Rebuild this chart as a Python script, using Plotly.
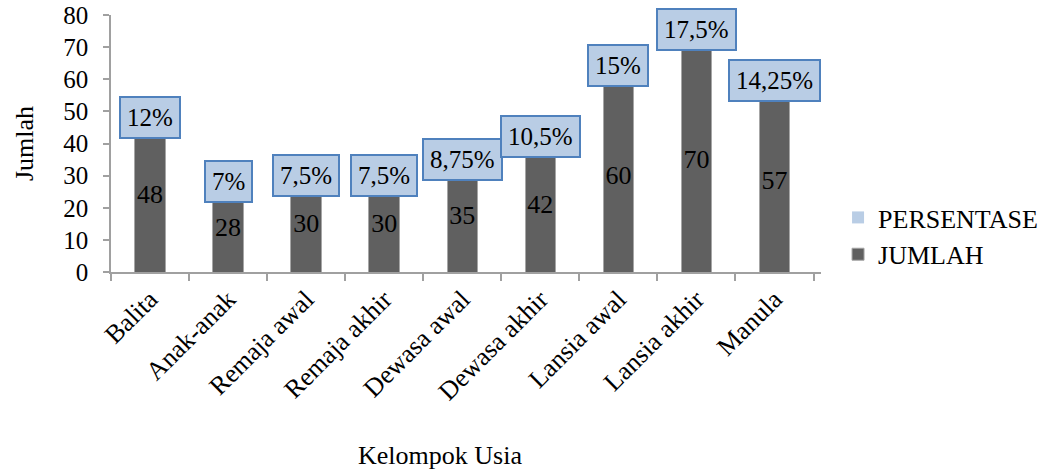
import plotly.graph_objects as go

categories = ["Balita", "Anak-anak", "Remaja awal", "Remaja akhir", "Dewasa awal",
              "Dewasa akhir", "Lansia awal", "Lansia akhir", "Manula"]
jumlah = [48, 28, 30, 30, 35, 42, 60, 70, 57]
persentase = [12, 7, 7.5, 7.5, 8.75, 10.5, 15, 17.5, 14.25]
y_ticks = [0, 10, 20, 30, 40, 50, 60, 70, 80]

# per-label vertical nudge in pixels (label placement style)
label_nudge = [0, 0, 0, 0, 0, 0, 13, 17, 8]

FONT = "Liberation Serif"
DARK = "#606060"
LIGHT = "#b9cde5"
BORDER = "#4f81bd"
AXIS = "#a0a0a0"

def fmt_pct(v):
    s = ("%g" % v).replace(".", ",")
    return s + "%"

pct_frac = [p / 100 for p in persentase]

fig = go.Figure()
fig.add_trace(go.Bar(
    x=categories, y=jumlah, name="JUMLAH", legendgroup="j",
    marker=dict(color=DARK, line=dict(color="#a6a6a6", width=1)),
    text=[str(v) for v in jumlah], textposition="inside", insidetextanchor="middle",
    constraintext="none",
    textfont=dict(family=FONT, size=26, color="black"),
    textangle=0,
))
fig.add_trace(go.Bar(
    x=categories, y=pct_frac, name="PERSENTASE", legendgroup="p",
    marker=dict(color=LIGHT, line=dict(width=0)),
))

for c, j, f, p, n in zip(categories, jumlah, pct_frac, persentase, label_nudge):
    fig.add_annotation(
        x=c, y=j + f, xref="x", yref="y", text=fmt_pct(p), showarrow=False,
        yanchor="middle", xanchor="center", yshift=n,
        font=dict(family=FONT, size=25, color="black"),
        bgcolor=LIGHT, bordercolor=BORDER, borderwidth=2, borderpad=6,
    )

pw = 1055 - 111 - 229
ph = 470 - 15 - 198
fig.add_annotation(
    x=(442 - 111) / pw, y=(272 - 455) / ph, xref="paper", yref="paper",
    text="Kelompok Usia", showarrow=False, yanchor="middle",
    font=dict(family=FONT, size=26, color="black"),
)

fig.update_layout(
    width=1055, height=470,
    margin=dict(l=111, r=229, t=15, b=198),
    paper_bgcolor="white", plot_bgcolor="white",
    barmode="stack", bargap=0.61,
    showlegend=True,
    legend=dict(traceorder="reversed", x=1.024, y=0.14, xanchor="left", yanchor="middle",
                font=dict(family=FONT, size=26, color="black"),
                itemwidth=30, tracegroupgap=14, borderwidth=0),
    font=dict(family=FONT, color="black"),
)

fig.update_xaxes(
    automargin=False,
    showgrid=False, showline=True, linecolor=AXIS, linewidth=1.5,
    ticks="outside", tickson="boundaries", ticklen=7, tickcolor=AXIS, tickwidth=1.5,
    tickangle=-45, tickfont=dict(family=FONT, size=26, color="black"),
)
fig.update_yaxes(
    automargin=False,
    range=[0, 80], tickvals=y_ticks, showgrid=False, zeroline=False,
    showline=True, linecolor=AXIS, linewidth=1.5,
    ticks="outside", ticklen=6, tickcolor=AXIS, tickwidth=1.5,
    ticklabelstandoff=10,
    tickfont=dict(family=FONT, size=25, color="black"),
    title=dict(text="Jumlah", font=dict(family=FONT, size=26, color="black"), standoff=22),
)

fig.write_html("out.html")
